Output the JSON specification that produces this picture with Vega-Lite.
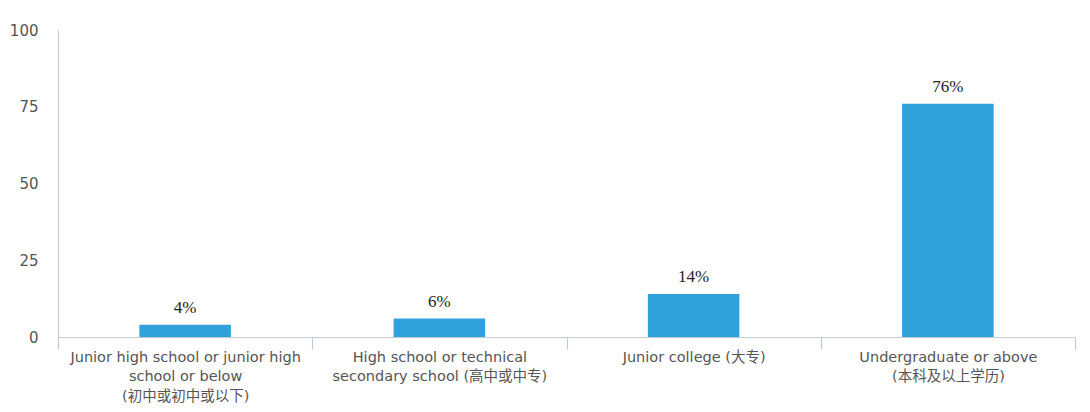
{
  "$schema": "https://vega.github.io/schema/vega-lite/v6.json",
  "width": 1017,
  "height": 307,
  "autosize": {"type": "none"},
  "padding": {"left": 58, "top": 30, "right": 15, "bottom": 75},
  "background": "white",
  "config": {"view": {"stroke": null}},
  "data": {
    "values": [
      {"level": "Junior high school or junior high|school or below|(初中或初中或以下)", "pct": 4, "label": "4%"},
      {"level": "High school or technical|secondary school (高中或中专)", "pct": 6, "label": "6%"},
      {"level": "Junior college (大专)", "pct": 14, "label": "14%"},
      {"level": "Undergraduate or above|(本科及以上学历)", "pct": 76, "label": "76%"}
    ]
  },
  "encoding": {
    "x": {
      "field": "level",
      "type": "nominal",
      "sort": null,
      "scale": {"paddingInner": 0, "paddingOuter": 0},
      "axis": {
        "title": null,
        "labelAngle": 0,
        "labelExpr": "isValid(datum.value) ? split(datum.value, '|') : ''",
        "labelFont": "DejaVu Sans, Noto Sans CJK SC",
        "labelFontSize": 14.5,
        "labelColor": "#555555",
        "labelLineHeight": 19.5,
        "labelLimit": 320,
        "labelOverlap": false,
        "labelPadding": 1,
        "labelBaseline": "top",
        "ticks": true,
        "tickBand": "extent",
        "tickExtra": true,
        "bandPosition": 0,
        "tickSize": 12,
        "tickWidth": 1.2,
        "tickColor": "#c3cbd6",
        "tickOpacity": 1,
        "domainColor": "#c3cbd6",
        "domainWidth": 1.2,
        "grid": false
      }
    },
    "y": {
      "field": "pct",
      "type": "quantitative",
      "scale": {"domain": [0, 100]},
      "axis": {
        "title": null,
        "values": [0, 25, 50, 75, 100],
        "ticks": false,
        "grid": false,
        "labelFont": "DejaVu Sans",
        "labelFontSize": 15,
        "labelColor": "#555555",
        "labelPadding": 20,
        "domainColor": "#c3cbd6",
        "domainWidth": 1.2
      }
    }
  },
  "layer": [
    {"mark": {"type": "bar", "color": "#31a1dc", "width": {"band": 0.36}}},
    {
      "mark": {"type": "text", "dy": -8, "baseline": "bottom", "font": "Liberation Serif", "fontSize": 17, "color": "#222222"},
      "encoding": {"text": {"field": "label"}}
    }
  ]
}
